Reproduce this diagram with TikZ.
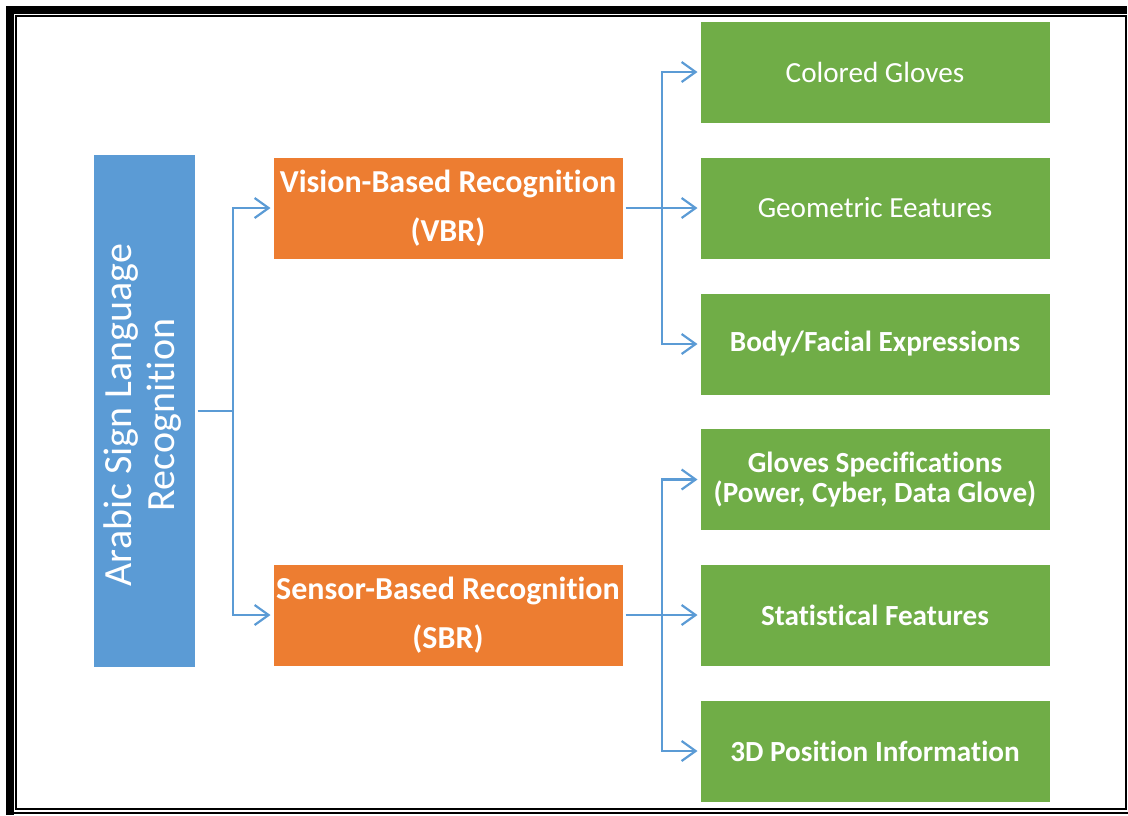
\documentclass[tikz,border=0pt]{standalone}
\usepackage{fontspec}
\setmainfont{Carlito}[Ligatures=NoCommon]
\usetikzlibrary{arrows.meta}
\definecolor{blueA}{HTML}{5B9BD5}
\definecolor{orangeA}{HTML}{ED7D31}
\definecolor{greenA}{HTML}{70AD47}
\begin{document}
\begin{tikzpicture}[x=1pt,y=-1pt,>={Straight Barb[length=14pt,width=20pt]},
	box/.style={draw=white,line width=3pt,inner sep=0pt,text=white,align=center,
		minimum width=352pt,minimum height=104pt},
	vbox/.style={box,fill=orangeA,font=\bfseries\fontsize{32}{49}\selectfont},
	leaf/.style={box,fill=greenA,font=\fontsize{29.2}{30}\selectfont},
	bleaf/.style={leaf,font=\bfseries\fontsize{29.2}{30}\selectfont},
	conn/.style={draw=blueA,line width=2.2pt}]
	\useasboundingbox (0,0) rectangle (1128,815);
	% page border
	\fill (6,6) rectangle (1127,14);
	\fill (6,6) rectangle (14,815);
	\draw[line width=1.6pt] (16.1,16) -- (1126,16) -- (1126,809) -- (16.1,809) -- cycle;
	\draw[line width=2.4pt] (6,813.2) -- (1128,813.2);
	% root
	\node[box,fill=blueA,minimum width=104pt,minimum height=515pt] (asl) at (144,411) {};
	\node[rotate=90,text=white,align=center,font=\fontsize{40}{43}\selectfont] (asltext) at (143,415)
		{Arabic Sign Language\\Recognition};
	% two kinds
	\node[vbox] (vbr) at (448,208) {Vision-Based Recognition\\(VBR)};
	\node[vbox] (sbr) at (448,615) {Sensor-Based Recognition\\(SBR)};
	% leaves
	\node[leaf] (cg) at (875,72) {Colored Gloves};
	\node[leaf] (ge) at (875,208) {Geometric Eeatures};
	\node[bleaf] (bf) at (875,344) {Body/Facial Expressions};
	\node[bleaf] (gs) at (875,479.5) {Gloves Specifications\\(Power, Cyber, Data Glove)};
	\node[bleaf] (sf) at (875,615) {Statistical Features};
	\node[bleaf] (pi) at (875,751) {3D Position Information};
	% connectors
	\coordinate (aj) at (233,411);
	\coordinate (vj) at (662,208);
	\coordinate (sj) at (662,615);
	\draw[conn,->] (asl.east) -- (aj) |- (vbr.west);
	\draw[conn,->] (aj) |- (sbr.west);
	\draw[conn,->] (vbr.east) -- (ge.west);
	\draw[conn,->] (vj) |- (cg.west);
	\draw[conn,->] (vj) |- (bf.west);
	\draw[conn,->] (sbr.east) -- (sf.west);
	\draw[conn,->] (sj) |- (gs.west);
	\draw[conn,->] (sj) |- (pi.west);
\end{tikzpicture}
\end{document}
